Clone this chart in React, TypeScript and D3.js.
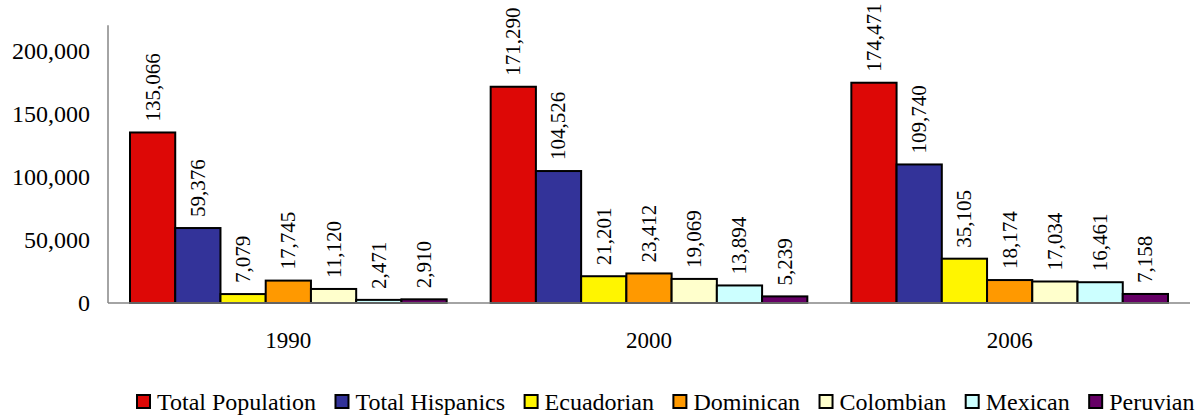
import React, { useEffect, useRef } from 'react';
import * as d3 from 'd3';

const years = ['1990', '2000', '2006'];
const seriesNames = ['Total Population', 'Total Hispanics', 'Ecuadorian', 'Dominican', 'Colombian', 'Mexican', 'Peruvian'];
const seriesColors = ['#DD0806', '#333399', '#FFF500', '#FF9900', '#FFFFCC', '#CCFFFF', '#660066'];
// values per series, one per year
const totalPopulation = [135066, 171290, 174471];
const totalHispanics = [59376, 104526, 109740];
const ecuadorian = [7079, 21201, 35105];
const dominican = [17745, 23412, 18174];
const colombian = [11120, 19069, 17034];
const mexican = [2471, 13894, 16461];
const peruvian = [2910, 5239, 7158];
const yTicks = [0, 50000, 100000, 150000, 200000];

const W = 1204;
const H = 420;
const FONT = "'Liberation Serif', 'Times New Roman', Tinos, 'DejaVu Serif', serif";

const App: React.FC = () => {
  const svgRef = useRef<SVGSVGElement>(null);

  useEffect(() => {
    if (!svgRef.current) return;
    const svg = d3.select(svgRef.current);
    svg.selectAll('*').remove();

    const allSeries = [totalPopulation, totalHispanics, ecuadorian, dominican, colombian, mexican, peruvian];
    const rows = years.flatMap((yr, i) =>
      seriesNames.map((name, s) => ({ year: yr, name, s, value: allSeries[s][i] }))
    );

    // plot box
    const left = 108, right = 1190, top = 25.25, bottom = 303;

    const x0 = d3.scaleBand().domain(years).range([left, right]);
    // inner band: ~22px of empty space at each side of a group
    const x1 = d3.scaleBand().domain(seriesNames).range([22, x0.bandwidth() - 22]);

    const y = d3.scaleLinear().domain([0, 220000]).range([bottom, top]);
    const fmt = d3.format(',');

    // axes
    svg.append('line')
      .attr('x1', left).attr('x2', left).attr('y1', top).attr('y2', bottom)
      .attr('stroke', '#868686').attr('stroke-width', 1.5);

    svg.append('g').selectAll('text')
      .data(yTicks)
      .enter()
      .append('text')
      .attr('x', 90)
      .attr('y', d => y(d))
      .attr('dy', '0.35em')
      .attr('text-anchor', 'end')
      .style('font-family', FONT)
      .style('font-size', '24px')
      .attr('fill', '#000')
      .text(d => fmt(d));

    // bars
    const g = svg.append('g');
    g.selectAll('rect')
      .data(rows)
      .enter()
      .append('rect')
      .attr('x', d => (x0(d.year) || 0) + (x1(d.name) || 0))
      .attr('y', d => y(d.value))
      .attr('width', x1.bandwidth())
      .attr('height', d => bottom - y(d.value))
      .attr('fill', d => seriesColors[d.s])
      .attr('stroke', '#000')
      .attr('stroke-width', 2);

    // value labels (rotated)
    g.selectAll('text.val')
      .data(rows)
      .enter()
      .append('text')
      .attr('class', 'val')
      .attr('transform', d => {
        const cx = (x0(d.year) || 0) + (x1(d.name) || 0) + x1.bandwidth() / 2;
        return `translate(${cx},${y(d.value) - 11}) rotate(-90)`;
      })
      .attr('dy', '0.33em')
      .style('font-family', FONT)
      .style('font-size', '21px')
      .attr('fill', '#000')
      .text(d => fmt(d.value));

    svg.append('line')
      .attr('x1', left).attr('x2', right).attr('y1', bottom).attr('y2', bottom)
      .attr('stroke', '#868686').attr('stroke-width', 1.5);

    // category labels
    svg.append('g').selectAll('text')
      .data(years)
      .enter()
      .append('text')
      .attr('x', d => (x0(d) || 0) + x0.bandwidth() / 2)
      .attr('y', 348)
      .attr('text-anchor', 'middle')
      .style('font-family', FONT)
      .style('font-size', '23px')
      .attr('fill', '#000')
      .text(d => d);

    // legend
    const leg = svg.append('g');
    let lx = 137;
    seriesNames.forEach((name, i) => {
      leg.append('rect')
        .attr('x', lx).attr('y', 395)
        .attr('width', 13).attr('height', 13)
        .attr('fill', seriesColors[i])
        .attr('stroke', '#000').attr('stroke-width', 2);
      const t = leg.append('text')
        .attr('x', lx + 20)
        .attr('y', 410)
        .style('font-family', FONT)
        .style('font-size', '24px')
        .attr('fill', '#000')
        .text(name);
      const tw = (t.node() as SVGTextElement).getComputedTextLength();
      lx += 20 + tw + 19.5;
    });
  }, []);

  return (
    <svg
      ref={svgRef}
      width={W}
      height={H}
      style={{ position: 'absolute', left: 0, top: 0, background: '#fff', display: 'block' }}
    />
  );
};

export default App;
